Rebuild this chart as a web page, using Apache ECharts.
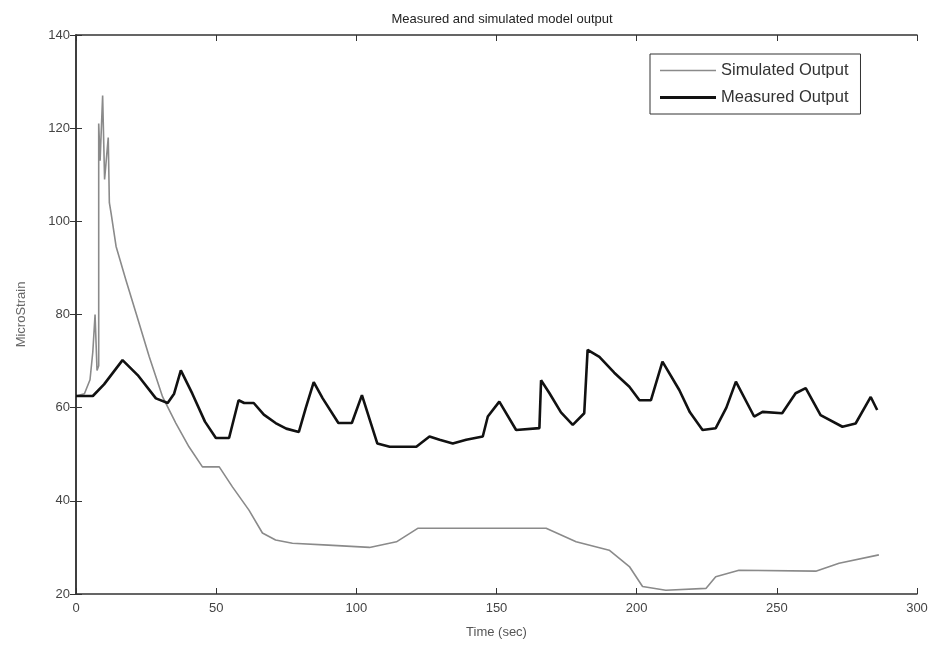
<!DOCTYPE html>
<html>
<head>
<meta charset="utf-8">
<script src="https://cdn.jsdelivr.net/npm/echarts@6/dist/echarts.min.js"></script>
<style>
  html, body { margin: 0; padding: 0; background: #fff; }
  #chart { width: 936px; height: 650px; }
</style>
</head>
<body>
<div id="chart"></div>
<script>
var chart = echarts.init(document.getElementById('chart'));

// time (sec), microstrain
const measured = [
  [0, 62.5], [6, 62.5], [10, 65], [16.6, 70.2], [22, 67], [28.5, 62], [32.7, 61],
  [35, 63], [37.4, 68], [41.5, 63], [46, 57], [49.9, 53.5], [54.6, 53.5], [58, 61.6],
  [60, 61], [63.4, 61], [67, 58.5], [71.2, 56.7], [75, 55.5], [79.5, 54.8], [82, 60],
  [84.8, 65.5], [88, 62], [93.6, 56.7], [98.4, 56.7], [102, 62.7], [105, 57],
  [107.5, 52.3], [111.9, 51.6], [121.4, 51.6], [126.1, 53.8], [129.7, 53.1],
  [134.4, 52.3], [139.2, 53.1], [145.1, 53.8], [146.9, 58.1], [151, 61.3], [157, 55.2],
  [165.3, 55.6], [165.9, 65.9], [168.9, 63.1], [173, 59], [177.2, 56.3], [181.3, 58.8],
  [182.5, 72.4], [186.7, 70.9], [192, 67.5], [197.4, 64.5], [201, 61.6], [205.1, 61.6],
  [209.2, 69.9], [215.2, 63.8], [219, 59], [223.5, 55.2], [228.2, 55.6], [232, 60],
  [235.4, 65.6], [241.9, 58.1], [244.9, 59.1], [251.9, 58.8], [256.7, 63.1],
  [260.3, 64.2], [265.6, 58.4], [273.4, 55.9], [278.1, 56.6], [283.5, 62.3], [285.8, 59.5]
];

const simulated = [
  [0, 62.5], [3, 63], [5, 66], [6, 72], [6.8, 80], [7.5, 68], [8.1, 69], [8.1, 121],
  [8.6, 113], [9.5, 127], [10.2, 109], [11.5, 118], [11.9, 104], [12.5, 101.8],
  [14.3, 94.6], [17.8, 87.4], [21.4, 80.3], [26.1, 71], [30.9, 62.3], [35.6, 56.7],
  [40.3, 51.6], [45.1, 47.3], [51.1, 47.3], [55.8, 43], [61.7, 38], [66.5, 33.1],
  [71.2, 31.6], [77.2, 30.9], [90, 30.5], [104.7, 30], [114.3, 31.2], [121.9, 34.1],
  [167.7, 34.1], [178.4, 31.2], [190.2, 29.4], [197.4, 25.9], [202.1, 21.6],
  [210.4, 20.8], [224.7, 21.2], [228.2, 23.7], [236.5, 25.1], [263.9, 24.9],
  [272.2, 26.6], [286.4, 28.4]
];

const xTicks = { min: 0, max: 300, step: 50 };
const yTicks = { min: 20, max: 140, step: 20 };

var font = 'Liberation Sans';
var axisLineStyle = { color: '#333', width: 1.5 };

chart.setOption({
  backgroundColor: '#fff',
  animation: false,
  title: {
    text: 'Measured and simulated model output',
    left: 497, top: 8, textAlign: 'center',
    textStyle: { fontFamily: font, fontSize: 13, fontWeight: 'normal', color: '#222' }
  },
  legend: {
    orient: 'vertical',
    left: 650, top: 54,
    padding: [8, 12, 8, 10],
    itemGap: 10,
    itemWidth: 56,
    itemHeight: 10,
    symbolKeepAspect: true,
    borderColor: '#333', borderWidth: 1,
    backgroundColor: '#fff',
    textStyle: { fontFamily: font, fontSize: 16.5, color: '#333' },
    data: [
      { name: 'Simulated Output', icon: 'path://M0,0L56,0L56,1.6L0,1.6Z' },
      { name: 'Measured Output', icon: 'path://M0,0L56,0L56,2.8L0,2.8Z' }
    ]
  },
  grid: { left: 76, right: 19, top: 35, bottom: 56 },
  xAxis: [{
    type: 'value', min: xTicks.min, max: xTicks.max, interval: xTicks.step,
    name: 'Time (sec)', nameLocation: 'middle', nameGap: 32,
    nameTextStyle: { fontFamily: font, fontSize: 13, color: '#555' },
    axisLine: { lineStyle: axisLineStyle },
    axisTick: { inside: true, length: 6, lineStyle: { color: '#333' } },
    axisLabel: { fontFamily: font, fontSize: 13, color: '#444', margin: 8 },
    splitLine: { show: false }
  }, {
    type: 'value', position: 'top', min: xTicks.min, max: xTicks.max, interval: xTicks.step,
    axisLine: { show: true, lineStyle: axisLineStyle },
    axisTick: { inside: true, length: 6, lineStyle: { color: '#333' } },
    axisLabel: { show: false },
    splitLine: { show: false }
  }],
  yAxis: [{
    type: 'value', min: yTicks.min, max: yTicks.max, interval: yTicks.step,
    name: 'MicroStrain', nameLocation: 'middle', nameGap: 48,
    nameTextStyle: { fontFamily: font, fontSize: 13, color: '#666' },
    axisLine: { show: true, lineStyle: axisLineStyle },
    axisTick: { show: true, inside: true, length: 6, lineStyle: { color: '#333' } },
    axisLabel: { fontFamily: font, fontSize: 13, color: '#444', margin: 6 },
    splitLine: { show: false }
  }, {
    type: 'value', position: 'right', min: yTicks.min, max: yTicks.max, interval: yTicks.step,
    axisLine: { show: true, lineStyle: axisLineStyle },
    axisTick: { show: true, inside: true, length: 6, lineStyle: { color: '#333' } },
    axisLabel: { show: false },
    splitLine: { show: false }
  }],
  series: [{
    name: 'Simulated Output',
    type: 'line',
    symbol: 'none',
    data: simulated,
    lineStyle: { color: '#8a8a8a', width: 1.6 },
    itemStyle: { color: '#8a8a8a' },
    z: 2
  }, {
    name: 'Measured Output',
    type: 'line',
    symbol: 'none',
    data: measured,
    lineStyle: { color: '#111', width: 2.6 },
    itemStyle: { color: '#111' },
    z: 3
  }]
});
</script>
</body>
</html>
